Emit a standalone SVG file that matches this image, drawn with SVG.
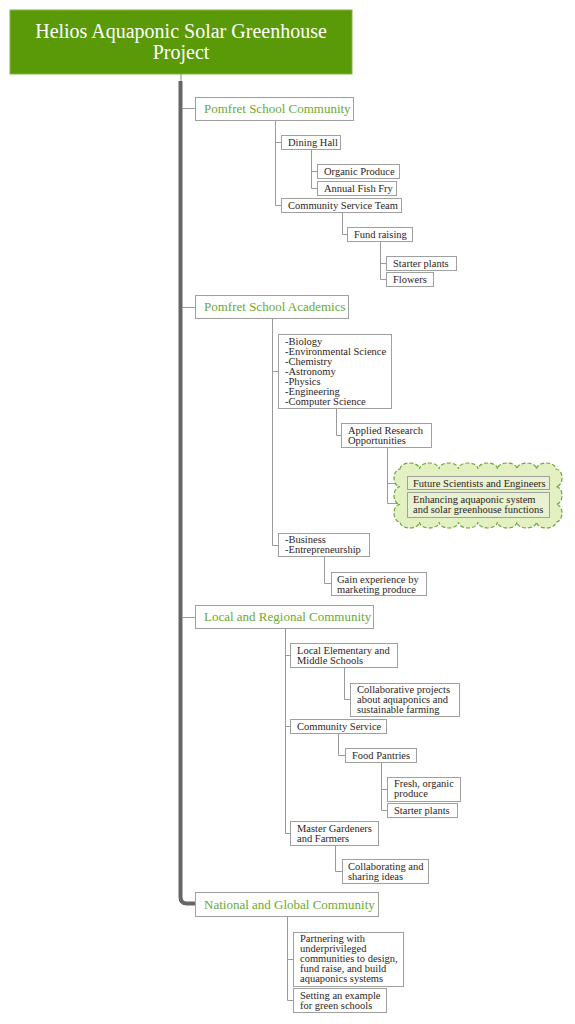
<svg xmlns="http://www.w3.org/2000/svg" width="575" height="1024" viewBox="0 0 575 1024">
<style>
.n{fill:#fff;stroke:#a0a0a0;stroke-width:1}
.c{fill:#e8f2d0;stroke:#a0a0a0;stroke-width:1}
.t{font-family:"Liberation Serif","DejaVu Serif",serif;font-size:10.5px;fill:#2e2424}
.h{font-family:"Liberation Serif","DejaVu Serif",serif;font-size:13px;fill:#6aaa30}
.title{font-family:"Liberation Serif","DejaVu Serif",serif;font-size:20px;fill:#fff;text-anchor:middle}
.l{fill:none;stroke:#9a9a9a;stroke-width:1}
</style>
<rect width="575" height="1024" fill="#fff"/>
<g id="connectors">
<line x1="181" y1="74" x2="181" y2="82" stroke="#888" stroke-width="1"/>
<path d="M180.5 81 V897 Q180.5 903.5 187 903.5 H195" fill="none" stroke="#666" stroke-width="4"/>
<path class="l" d="M182 108.5 H195 M182 307.5 H195 M182 617.5 H195"/>
<path class="l" d="M275.5 121 V205.5 H281 M275.5 142.5 H281"/>
<path class="l" d="M311.5 150 V188.5 H317 M311.5 171.5 H317"/>
<path class="l" d="M342.5 213 V234.5 H347"/>
<path class="l" d="M380.5 242 V279.5 H386 M380.5 263.5 H386"/>
<path class="l" d="M272.5 319 V545.5 H278 M272.5 371.5 H278"/>
<path class="l" d="M336.5 409 V435.5 H341"/>
<path class="l" d="M387.5 448 V503.5 H407 M387.5 483.5 H407"/>
<path class="l" d="M324.5 557 V583.5 H331"/>
<path class="l" d="M285.5 629 V833.5 H290 M285.5 655.5 H290 M285.5 726.5 H290"/>
<path class="l" d="M344.5 668 V699.5 H350"/>
<path class="l" d="M338.5 734 V755.5 H345"/>
<path class="l" d="M381.5 763 V810.5 H387 M381.5 789.5 H387"/>
<path class="l" d="M335.5 846 V871.5 H342"/>
<path class="l" d="M287.5 917 V1000.5 H293 M287.5 959.5 H293"/>
</g>
<g id="root">
<rect x="10" y="10" width="342" height="64" fill="#5a9a08" stroke="#7fb83a" stroke-width="1"/>
<text class="title" x="181" y="38">Helios Aquaponic Solar Greenhouse</text>
<text class="title" x="181" y="59">Project</text>
</g>
<g id="pomfret-community">
<rect class="n" x="195.5" y="97.5" width="158" height="23"/>
<text class="h" x="204" y="113">Pomfret School Community</text>
</g>
<g id="dining-hall"><rect class="n" x="281.5" y="135.5" width="59" height="14"/><text class="t" x="288" y="146">Dining Hall</text></g>
<g id="organic-produce"><rect class="n" x="317.5" y="164.5" width="82" height="14"/><text class="t" x="324" y="175">Organic Produce</text></g>
<g id="fish-fry"><rect class="n" x="317.5" y="181.5" width="79" height="14"/><text class="t" x="324" y="192">Annual Fish Fry</text></g>
<g id="cst"><rect class="n" x="281.5" y="198.5" width="120" height="14"/><text class="t" x="288" y="209">Community Service Team</text></g>
<g id="fund-raising"><rect class="n" x="347.5" y="227.5" width="65" height="14"/><text class="t" x="354" y="238">Fund raising</text></g>
<g id="starter-plants-1"><rect class="n" x="386.5" y="256.5" width="70" height="14"/><text class="t" x="393" y="267">Starter plants</text></g>
<g id="flowers"><rect class="n" x="386.5" y="272.5" width="47" height="14"/><text class="t" x="393" y="283">Flowers</text></g>

<g id="pomfret-academics">
<rect class="n" x="195.5" y="295.5" width="153" height="23"/>
<text class="h" x="204" y="311">Pomfret School Academics</text>
</g>
<g id="subjects"><rect class="n" x="278.5" y="334.5" width="113" height="74"/>
<text class="t" x="285"><tspan x="285" y="345">-Biology</tspan><tspan x="285" y="355">-Environmental Science</tspan><tspan x="285" y="365">-Chemistry</tspan><tspan x="285" y="375">-Astronomy</tspan><tspan x="285" y="385">-Physics</tspan><tspan x="285" y="395">-Engineering</tspan><tspan x="285" y="405">-Computer Science</tspan></text></g>
<g id="applied-research"><rect class="n" x="341.5" y="423.5" width="90" height="24"/>
<text class="t"><tspan x="348" y="434">Applied Research</tspan><tspan x="348" y="444">Opportunities</tspan></text></g>
<g id="cloud">
<path d="M400 469 a9.75 6 0 0 1 19.5 0 a9.75 6 0 0 1 19.5 0 a9.75 6 0 0 1 19.5 0 a9.75 6 0 0 1 19.5 0 a9.75 6 0 0 1 19.5 0 a9.75 6 0 0 1 19.5 0 a9.75 6 0 0 1 19.5 0 a9.75 6 0 0 1 19.5 0 a6 8.833 0 0 1 0 17.667 a6 8.833 0 0 1 0 17.667 a6 8.833 0 0 1 0 17.667 a9.75 6 0 0 1 -19.5 0 a9.75 6 0 0 1 -19.5 0 a9.75 6 0 0 1 -19.5 0 a9.75 6 0 0 1 -19.5 0 a9.75 6 0 0 1 -19.5 0 a9.75 6 0 0 1 -19.5 0 a9.75 6 0 0 1 -19.5 0 a9.75 6 0 0 1 -19.5 0 a6 8.833 0 0 1 0 -17.667 a6 8.833 0 0 1 0 -17.667 a6 8.833 0 0 1 0 -17.667 Z" fill="#e3f0c2" stroke="#6aa83a" stroke-width="1.2" stroke-dasharray="4 2"/>
</g>
<g id="future-scientists"><rect class="c" x="407.5" y="476.5" width="142" height="13"/><text class="t" x="413" y="487">Future Scientists and Engineers</text></g>
<g id="enhancing"><rect class="c" x="407.5" y="492.5" width="142" height="25"/>
<text class="t"><tspan x="413" y="503">Enhancing aquaponic system</tspan><tspan x="413" y="513">and solar greenhouse functions</tspan></text></g>
<g id="business"><rect class="n" x="278.5" y="533.5" width="91" height="23"/>
<text class="t"><tspan x="285" y="543">-Business</tspan><tspan x="285" y="553">-Entrepreneurship</tspan></text></g>
<g id="gain-experience"><rect class="n" x="331.5" y="572.5" width="95" height="23"/>
<text class="t"><tspan x="337" y="583">Gain experience by</tspan><tspan x="337" y="593">marketing produce</tspan></text></g>

<g id="local-regional">
<rect class="n" x="195.5" y="605.5" width="178" height="23"/>
<text class="h" x="204" y="621">Local and Regional Community</text>
</g>
<g id="local-schools"><rect class="n" x="290.5" y="643.5" width="107" height="24"/>
<text class="t"><tspan x="297" y="654">Local Elementary and</tspan><tspan x="297" y="664">Middle Schools</tspan></text></g>
<g id="collaborative"><rect class="n" x="350.5" y="683.5" width="109" height="33"/>
<text class="t"><tspan x="357" y="693">Collaborative projects</tspan><tspan x="357" y="703">about aquaponics and</tspan><tspan x="357" y="713">sustainable farming</tspan></text></g>
<g id="community-service"><rect class="n" x="290.5" y="719.5" width="96" height="14"/><text class="t" x="297" y="730">Community Service</text></g>
<g id="food-pantries"><rect class="n" x="345.5" y="748.5" width="71" height="14"/><text class="t" x="352" y="759">Food Pantries</text></g>
<g id="fresh-produce"><rect class="n" x="387.5" y="777.5" width="73" height="24"/>
<text class="t"><tspan x="394" y="787">Fresh, organic</tspan><tspan x="394" y="797">produce</tspan></text></g>
<g id="starter-plants-2"><rect class="n" x="387.5" y="803.5" width="70" height="14"/><text class="t" x="394" y="814">Starter plants</text></g>
<g id="master-gardeners"><rect class="n" x="290.5" y="821.5" width="88" height="24"/>
<text class="t"><tspan x="297" y="832">Master Gardeners</tspan><tspan x="297" y="842">and Farmers</tspan></text></g>
<g id="collaborating"><rect class="n" x="342.5" y="859.5" width="86" height="24"/>
<text class="t"><tspan x="348" y="870">Collaborating and</tspan><tspan x="348" y="880">sharing ideas</tspan></text></g>

<g id="national-global">
<rect class="n" x="195.5" y="892.5" width="183" height="24"/>
<text class="h" x="204" y="909">National and Global Community</text>
</g>
<g id="partnering"><rect class="n" x="293.5" y="932.5" width="110" height="54"/>
<text class="t"><tspan x="300" y="942">Partnering with</tspan><tspan x="300" y="952">underprivileged</tspan><tspan x="300" y="962">communities to design,</tspan><tspan x="300" y="972">fund raise, and build</tspan><tspan x="300" y="982">aquaponics systems</tspan></text></g>
<g id="green-schools"><rect class="n" x="293.5" y="988.5" width="93" height="24"/>
<text class="t"><tspan x="300" y="999">Setting an example</tspan><tspan x="300" y="1009">for green schools</tspan></text></g>
</svg>
